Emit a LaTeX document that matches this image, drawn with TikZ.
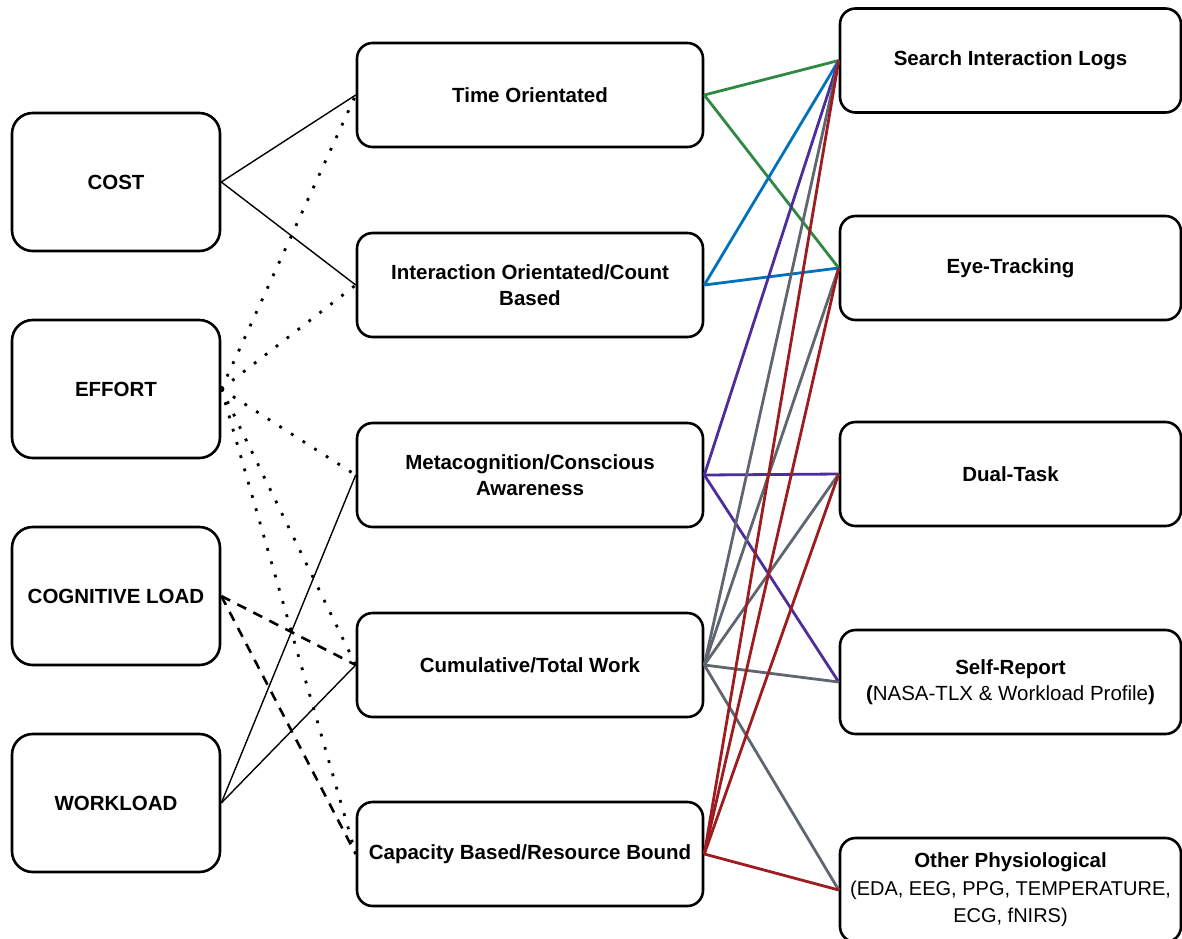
\documentclass[tikz,border=0pt]{standalone}
\usepackage{fontspec}
\setmainfont{Liberation Sans}
\definecolor{cgreen}{RGB}{46,137,66}
\definecolor{cblue}{RGB}{0,114,189}
\definecolor{cpurple}{RGB}{76,45,155}
\definecolor{cgray}{RGB}{95,102,112}
\definecolor{cred}{RGB}{158,27,32}
\begin{document}
\begin{tikzpicture}[x=1pt,y=-1pt,
  box/.style={draw=black, line width=2.6pt, rounded corners=15.6pt, fill=white, align=center,
    font=\fontsize{20.5}{26}\selectfont\bfseries, inner sep=0pt},
  lbox/.style={box, minimum width=208pt, minimum height=138pt, rounded corners=20.7pt},
  mbox/.style={box, minimum width=346pt, minimum height=104pt},
  rbox/.style={box, minimum width=341pt, minimum height=104pt},
  conn/.style={line width=1.4pt},
  dotline/.style={line width=2.8pt, dash pattern=on 2.8pt off 11pt},
  dashline/.style={line width=2.6pt, dash pattern=on 10pt off 8pt},
  col/.style={line width=2.8pt},
]
\useasboundingbox (0,0) rectangle (1182,938);
\clip (0,0) rectangle (1182,938);

% left column
\node[lbox] (cost) at (116,182) {COST};
\node[lbox] (effort) at (116,389) {EFFORT};
\node[lbox] (cog) at (116,596) {COGNITIVE LOAD};
\node[lbox] (work) at (116,803) {WORKLOAD};

% middle column
\node[mbox] (time) at (530,95) {Time Orientated};
\node[mbox] (inter) at (530,285) {Interaction Orientated/Count\\Based};
\node[mbox] (meta) at (530,475) {Metacognition/Conscious\\Awareness};
\node[mbox] (cum) at (530,665) {Cumulative/Total Work};
\node[mbox] (cap) at (530,854) {Capacity Based/Resource Bound};

% right column
\node[rbox] (sil) at (1010.5,60.5) {Search Interaction Logs};
\node[rbox] (eye) at (1010.5,268) {Eye-Tracking};
\node[rbox] (dual) at (1010.5,474) {Dual-Task};
\node[rbox] (self) at (1010.5,682) {Self-Report\\\mdseries\textbf{(}NASA-TLX \& Workload Profile\textbf{)}};
\node[rbox, font=\fontsize{20.5}{27.5}\selectfont\bfseries] (other) at (1010.5,890)
  {Other Physiological\\\fontsize{20}{27.5}\selectfont\mdseries (EDA, EEG, PPG, TEMPERATURE,\\\fontsize{20}{27.5}\selectfont\mdseries ECG, fNIRS)};

% left to middle
\draw[conn] (cost.east) -- (time.west);
\draw[conn] (cost.east) -- (inter.west);
\foreach \t in {time,inter,meta,cum,cap} \draw[dotline] (effort.east) -- (\t.west);
\draw[dashline] (cog.east) -- (cum.west);
\draw[dashline] (cog.east) -- (cap.west);
\draw[conn] (work.east) -- (meta.west);
\draw[conn] (work.east) -- (cum.west);

% middle to right
\foreach \t in {sil,eye} \draw[col, cgreen] (time.east) -- (\t.west);
\foreach \t in {sil,eye} \draw[col, cblue] (inter.east) -- (\t.west);
\foreach \t in {sil,dual,self} \draw[col, cpurple] (meta.east) -- (\t.west);
\foreach \t in {sil,eye,dual,self,other} \draw[col, cgray] (cum.east) -- (\t.west);
\foreach \t in {sil,eye,dual,other} \draw[col, cred] (cap.east) -- (\t.west);
\end{tikzpicture}
\end{document}
